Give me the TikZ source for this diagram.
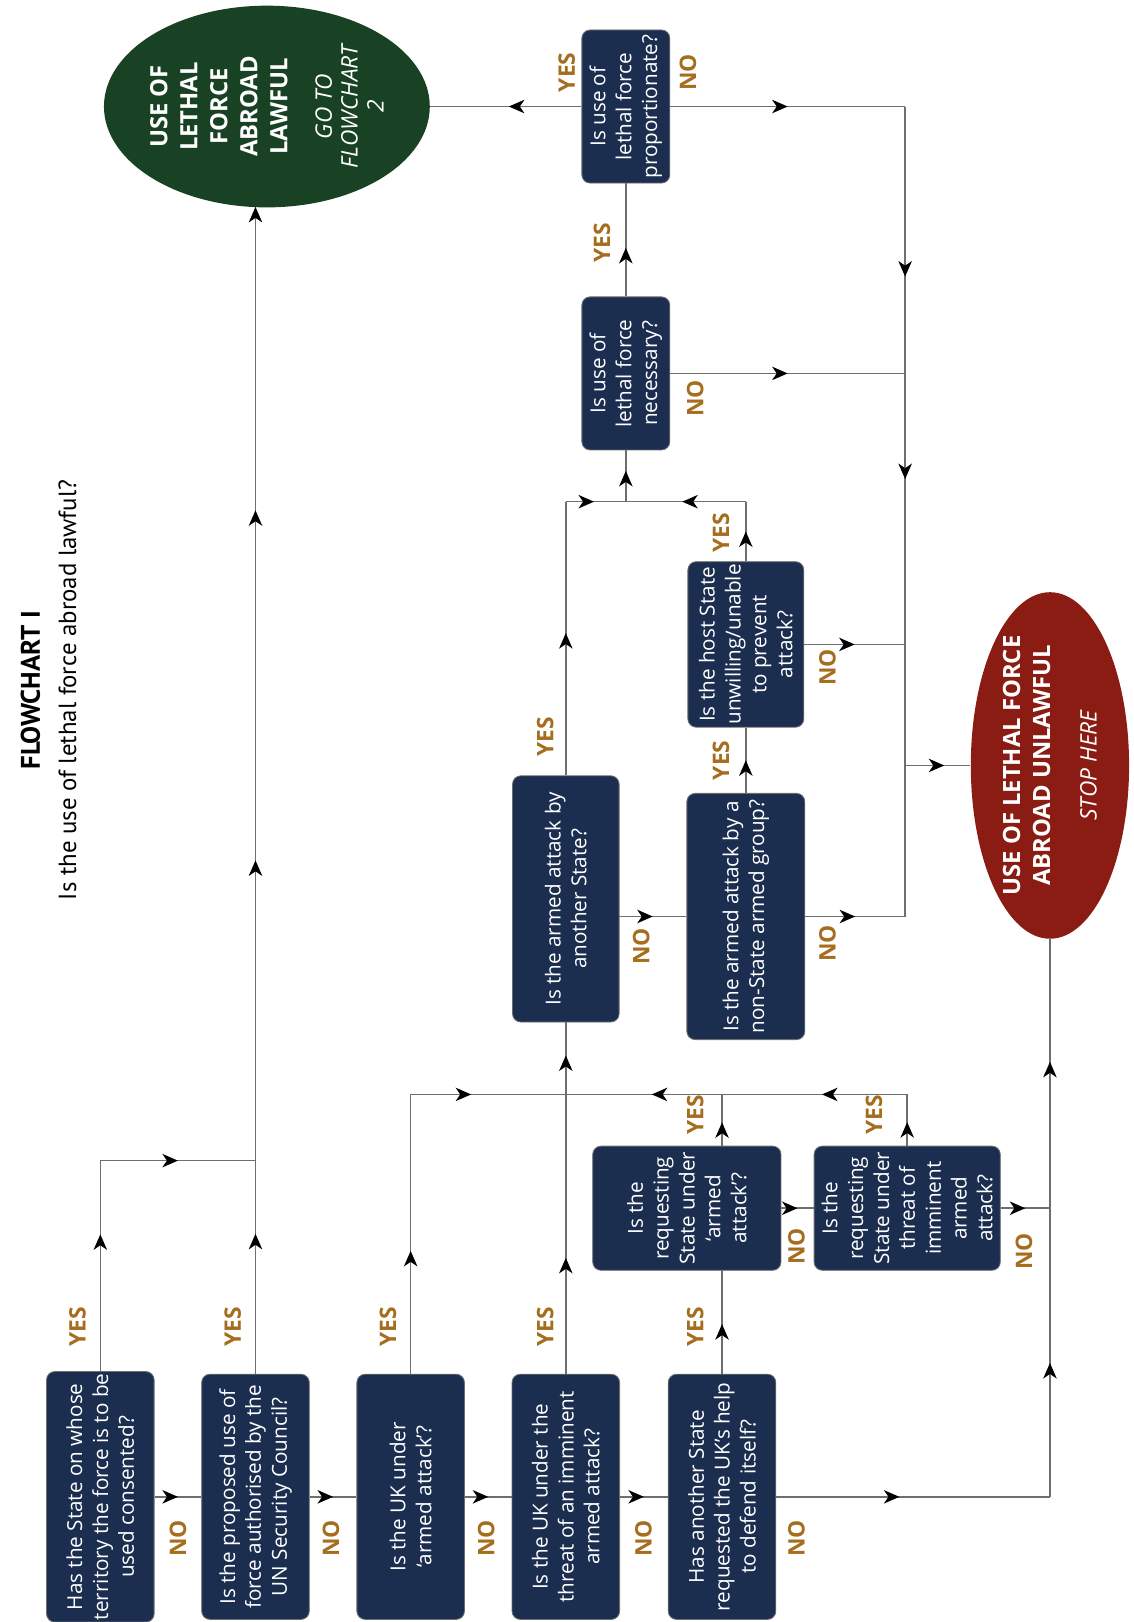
\documentclass[tikz,border=0pt]{standalone}
\usepackage{fontspec}
\setmainfont{Open Sans}
\newfontfamily\titlefont{PT Sans}
\usetikzlibrary{arrows.meta,shapes.geometric,decorations.markings}
\definecolor{navy}{RGB}{28,46,80}
\definecolor{lawgreen}{RGB}{25,66,36}
\definecolor{lawred}{RGB}{139,28,20}
\definecolor{gold}{RGB}{165,110,30}
\definecolor{wire}{RGB}{110,110,110}
\newcommand\subfont{\mdseries\itshape\fontsize{11}{12.5}\selectfont}

\begin{document}
\begin{tikzpicture}[rotate=90,transform shape,x=0.5pt,y=0.5pt,
	>={Stealth[length=7.5pt,width=6.5pt,inset=2.2pt,color=black]},
	qbox/.style={draw=wire,fill=navy,text=white,rounded corners=4pt,align=center,inner sep=1pt,font=\fontsize{10}{12.5}\selectfont},
	lbl/.style={text=gold,font=\bfseries\fontsize{11}{13}\selectfont},
	conn/.style={draw=wire,line width=0.7pt},
	arr/.style={postaction={decorate,decoration={markings,mark=at position #1 with {\arrow{>}}}}},
	endbox/.style={ellipse,text=white,align=center,inner sep=-6pt,font=\bfseries\fontsize{11.5}{14.5}\selectfont}]
	\useasboundingbox (0,0) rectangle (1568,1096);
	% title
	\node[align=center,font=\titlefont\fontsize{12}{17.5}\selectfont] (title) at (901,1049)
	{\bfseries\fontsize{13}{17.5}\selectfont FLOWCHART I\\Is the use of lethal force abroad lawful?};
	% questions, first column
	\node[qbox,minimum width=118.5pt,minimum height=52pt] (A1) at (121,999) {Has the State on whose\\territory the force is to be\\used consented?};
	\node[qbox,minimum width=118.5pt,minimum height=52pt] (A2) at (121,849) {Is the proposed use of\\force authorised by the\\UN Security Council?};
	\node[qbox,minimum width=118.5pt,minimum height=52pt] (A3) at (121,699) {Is the UK under\\‘armed attack’?};
	\node[qbox,minimum width=118.5pt,minimum height=52pt] (A4) at (121,549) {Is the UK under the\\threat of an imminent\\armed attack?};
	\node[qbox,minimum width=118.5pt,minimum height=52pt] (A5) at (121,398) {Has another State\\requested the UK’s help\\to defend itself?};
	% requesting State
	\node[qbox,minimum width=60pt,minimum height=91pt] (R1) at (400,432) {Is the\\requesting\\State under\\‘armed\\attack’?};
	\node[qbox,minimum width=60pt,minimum height=90pt] (R2) at (400,219) {Is the\\requesting\\State under\\threat of\\imminent\\armed\\attack?};
	% who attacks
	\node[qbox,minimum width=119pt,minimum height=51.5pt] (B1) at (699,549) {Is the armed attack by\\another State?};
	\node[qbox,minimum width=119pt,minimum height=57pt] (B2) at (682,375) {Is the armed attack by a\\non-State armed group?};
	\node[qbox,minimum width=80pt,minimum height=56pt] (H) at (945,375) {Is the host State\\unwilling/unable\\to prevent\\attack?};
	\node[qbox,minimum width=74pt,minimum height=42.5pt] (N) at (1207,491) {Is use of\\lethal force\\necessary?};
	\node[qbox,minimum width=74pt,minimum height=42.5pt] (P) at (1465,491) {Is use of\\lethal force\\proportionate?};
	% outcomes
	\node[endbox,fill=lawgreen,minimum width=97.5pt,minimum height=157.5pt] (lawful) at (1465,838)
	{USE OF\\LETHAL\\FORCE\\ABROAD\\LAWFUL\\[7pt]\subfont GO TO\\[-2pt]\subfont FLOWCHART\\[-2pt]\subfont 2};
	\node[endbox,fill=lawred,minimum width=167.5pt,minimum height=76.5pt] (unlawful) at (828,81)
	{USE OF LETHAL FORCE\\ABROAD UNLAWFUL\\[8pt]\subfont STOP HERE};
	% corners of the lines
	\coordinate (k1) at (446,999);
	\coordinate (j1) at (446,849);
	\coordinate (lawin) at (1368,849);
	\coordinate (jA) at (510,699);
	\coordinate (jB) at (510,549);
	\coordinate (r1in) at (340,398);
	\coordinate (r1out) at (460,398);
	\coordinate (jR1) at (510,398);
	\coordinate (jR2) at (510,219);
	\coordinate (jU) at (121,81);
	\coordinate (jU2) at (400,81);
	\coordinate (b1s) at (682,497.5);
	\coordinate (jB1) at (1083,549);
	\coordinate (jH) at (1083,375);
	\coordinate (jN) at (1083,491);
	\coordinate (jP) at (1465,221);
	\coordinate (jV) at (682,221);
	\coordinate (jS) at (828,221);
	\coordinate (jNn) at (1207,221);
	\coordinate (jHn) at (945,221);
	% NO chain
	\draw[conn,arr=.5] (A1.south) -- (A2.north);
	\draw[conn,arr=.5] (A2.south) -- (A3.north);
	\draw[conn,arr=.5] (A3.south) -- (A4.north);
	\draw[conn,arr=.5] (A4.south) -- (A5.north);
	\draw[conn,arr=.45] (A5.south) -- (jU);
	\draw[conn,arr=.24,arr=.78] (jU) -- (unlawful.west);
	\draw[conn,arr=.5] (R1.south) -- (R2.north);
	\draw[conn,arr=.5] (R2.south) -- (jU2);
	% YES branches
	\draw[conn,arr=.65] (A1.east) -- (k1);
	\draw[conn,arr=.5] (k1) -- (j1);
	\draw[conn,arr=.12,arr=.44,arr=.74,->] (A2.east) -- (lawin);
	\draw[conn,arr=.44] (A3.east) -- (jA);
	\draw[conn,arr=.39] (jA) -- (jB);
	\draw[conn,arr=.33,arr=.906] (A4.east) -- (B1.west);
	\draw[conn,arr=.48] (A5.east) -- (r1in);
	\draw[conn,arr=.46] (r1out) -- (jR1);
	\draw[conn,arr=.45] (jR1) -- (jB);
	\draw[conn,arr=.46] (R2.east) -- (jR2);
	\draw[conn,arr=.46] (jR2) -- (jR1);
	% State or non-State
	\draw[conn,arr=.5] (b1s) -- (B2.north);
	\draw[conn,arr=.5] (B2.south) -- (jV);
	\draw[conn,arr=.5] (B2.east) -- (H.west);
	\draw[conn,arr=.5] (H.south) -- (jHn);
	\draw[conn,arr=.5] (H.east) -- (jH);
	\draw[conn,arr=.53] (jH) -- (jN);
	\draw[conn,arr=.52] (B1.east) -- (jB1);
	\draw[conn,arr=.47] (jB1) -- (jN);
	\draw[conn,arr=.6] (jN) -- (N.west);
	\draw[conn,arr=.43] (N.east) -- (P.west);
	\draw[conn,arr=.5] (N.south) -- (jNn);
	\draw[conn,arr=.48] (P.north) -- (lawful.south);
	\draw[conn,arr=.5] (P.south) -- (jP);
	\draw[conn,arr=.21,arr=.46] (jP) -- (jV);
	\draw[conn,arr=.6] (jS) -- (unlawful.north);
	% YES / NO
	\node[lbl] (yA1) at (285,1021) {YES};
	\node[lbl] (yA2) at (285,871) {YES};
	\node[lbl] (yA3) at (285,721) {YES};
	\node[lbl] (yA4) at (285,569) {YES};
	\node[lbl] (yA5) at (285,424) {YES};
	\node[lbl] (yR1) at (490,424) {YES};
	\node[lbl] (yR2) at (490,251) {YES};
	\node[lbl] (yB1) at (856,569) {YES};
	\node[lbl] (yB2) at (833,399) {YES};
	\node[lbl] (yH) at (1053,399) {YES};
	\node[lbl] (yN) at (1333,514) {YES};
	\node[lbl] (yP) at (1498,548) {YES};
	\node[lbl] (nA1) at (81,924) {NO};
	\node[lbl] (nA2) at (81,776) {NO};
	\node[lbl] (nA3) at (81,626) {NO};
	\node[lbl] (nA4) at (81,474) {NO};
	\node[lbl] (nA5) at (81,326) {NO};
	\node[lbl] (nR1) at (363,326) {NO};
	\node[lbl] (nR2) at (358,106) {NO};
	\node[lbl] (nB1) at (653,476) {NO};
	\node[lbl] (nB2) at (656,296) {NO};
	\node[lbl] (nH) at (923,296) {NO};
	\node[lbl] (nN) at (1183,424) {NO};
	\node[lbl] (nP) at (1498,431) {NO};
\end{tikzpicture}
\end{document}
